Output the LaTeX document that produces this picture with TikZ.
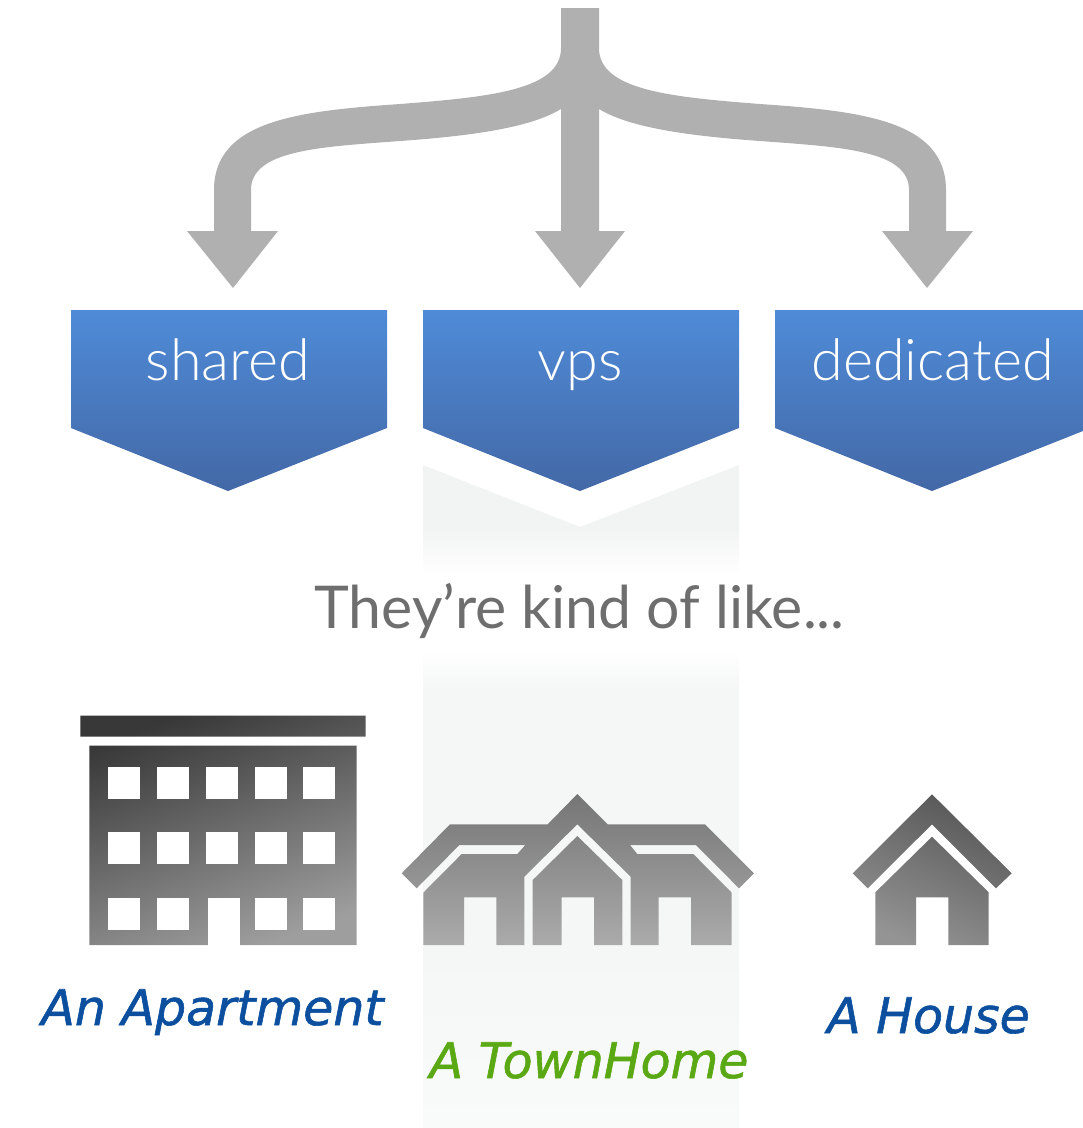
\documentclass[tikz,border=0pt]{standalone}
\usepackage{fontspec}
\setmainfont{Lato}
\newfontfamily\ribbonfont{Lato Light}
\newfontfamily\handfont[RawFeature={embolden=1.2}]{DejaVu Sans}
\definecolor{arrowgray}{HTML}{B0B0B0}
\definecolor{ribbontop}{HTML}{4F8BD8}
\definecolor{ribbonbottom}{HTML}{4368A6}
\definecolor{stripgray}{HTML}{F2F3F3}
\definecolor{striplight}{HTML}{F5F6F6}
\definecolor{stripfaint}{HTML}{F9FAFA}
\definecolor{saytext}{HTML}{6E6E6E}
\definecolor{handblue}{HTML}{0B4F9E}
\definecolor{handgreen}{HTML}{5AA914}
\tikzset{
    ribbon/.style={top color=ribbontop, bottom color=ribbonbottom},
    ribbonlabel/.style={anchor=base, inner sep=0pt, text=white, font=\fontsize{57.5}{58}\ribbonfont},
    handlabel/.style={anchor=base, inner sep=0pt, font=\fontsize{49}{50}\handfont\itshape},
    pane/.style={fill=white}
}
\begin{document}
\begin{tikzpicture}[x=1pt,y=-1pt]
            \useasboundingbox (0,0) rectangle (1083,1128);
            % strip behind the middle column
            \fill[stripgray] (423,465) -- (580,527) -- (739,465) -- (739,528) -- (423,528) -- cycle;
            \shade[top color=stripgray, bottom color=white] (423,527) rectangle (739,575);
            \shade[top color=white, bottom color=striplight] (423,650) rectangle (739,690);
            \fill[striplight] (423,689) rectangle (739,950);
            \shade[top color=striplight, bottom color=stripfaint] (423,949) rectangle (739,1128);
            % branching arrow
            \fill[arrowgray] (561,8) -- (561,48) .. controls (561,90) and (490,97) .. (400,104) .. controls (300,111) and (214,120) .. (214,190) -- (214,231) -- (187,231) -- (233,288) -- (278,231) -- (251,231) -- (251,190) .. controls (251,150) and (320,147) .. (400,141) .. controls (470,136) and (530,128) .. (561,109) -- (561,231) -- (535,231) -- (580,288) -- (625,231) -- (599,231) -- (599,109) .. controls (630,128) and (690,136) .. (760,141) .. controls (840,147) and (909,150) .. (909,190) -- (909,231) -- (882,231) -- (927,288) -- (973,231) -- (946,231) -- (946,190) .. controls (946,120) and (860,111) .. (760,104) .. controls (670,97) and (599,90) .. (599,48) -- (599,8) -- cycle;
            % ribbons
            \shade[ribbon] (71,310) -- (387,310) -- (387,428) -- (228,491) -- (71,428) -- cycle;
            \shade[ribbon] (423,310) -- (739,310) -- (739,428) -- (580,491) -- (423,428) -- cycle;
            \shade[ribbon] (775,310) -- (1083,310) -- (1083,431) -- (932,491) -- (775,428) -- cycle;
            \node[ribbonlabel] (shared) at (228,380) {shared};
            \node[ribbonlabel] (vps) at (580,380) {vps};
            \node[ribbonlabel] (dedicated) at (932.5,380) {dedicated};
            \node[anchor=base, inner sep=0pt, text=saytext, font=\fontsize{59}{59}\selectfont] (like) at (579.5,628) {They’re kind of like...};
            % apartment
            \shade[top color=black!78, bottom color=black!38, shading angle=20] (80.3,715.7) rectangle (365.7,736.7) (89.3,745.7) rectangle (356.7,945);
            \foreach \px in {108.3,157,205.7,254.7,303.3} {
                \foreach \py in {766.7,832.3} {
                    \fill[pane] (\px,\py) rectangle ++(32,32);
                }
            }
            \foreach \px in {108.3,157,254.7,303.3} {
                \fill[pane] (\px,897.7) rectangle ++(32,32);
            }
            \fill[pane] (207.7,897.7) rectangle (240,945.5);
            % townhome
            \shade[top color=black!54, bottom color=black!33] (401.7,873.3) -- (450,824.3) -- (547.7,824.3) -- (577.3,794) -- (607.7,824.3) -- (705,824.3) -- (754,873.3) -- (739,888.3) -- (696,845) -- (630,845) -- (637.3,854) -- (693.3,854) -- (731.7,892.7) -- (731.7,945) -- (691,945) -- (691,897.3) -- (658.7,897.3) -- (658.7,945) -- (630.7,945) -- (630.7,876.7) -- (577.3,824.3) -- (524.3,876.7) -- (524.3,945) -- (496.3,945) -- (496.3,897.3) -- (464,897.3) -- (464,945) -- (423.3,945) -- (423.3,892.7) -- (461.7,854) -- (517.3,854) -- (525.3,845) -- (459.3,845) -- (416.7,888.3) -- cycle (577.3,836) -- (622.3,880) -- (622.3,945) -- (594,945) -- (594,897.3) -- (561.7,897.3) -- (561.7,945) -- (532.7,945) -- (532.7,880) -- cycle;
            % house
            \shade[top color=black!66, bottom color=black!42, shading angle=-25] (852.7,873.3) -- (932,794.3) -- (1011.7,873.3) -- (996,888.3) -- (932,824.3) -- (867.7,888.3) -- cycle (932,836.7) -- (988.7,892.3) -- (988.7,945) -- (948.3,945) -- (948.3,897.3) -- (916,897.3) -- (916,945) -- (875.3,945) -- (875.3,892.3) -- cycle;
            % labels
            \node[handlabel, text=handblue] (apartment) at (212.5,1025) {An Apartment};
            \node[handlabel, text=handgreen] (townhome) at (589,1078) {A TownHome};
            \node[handlabel, text=handblue] (house) at (928.5,1033) {A House};
\end{tikzpicture}
\end{document}
